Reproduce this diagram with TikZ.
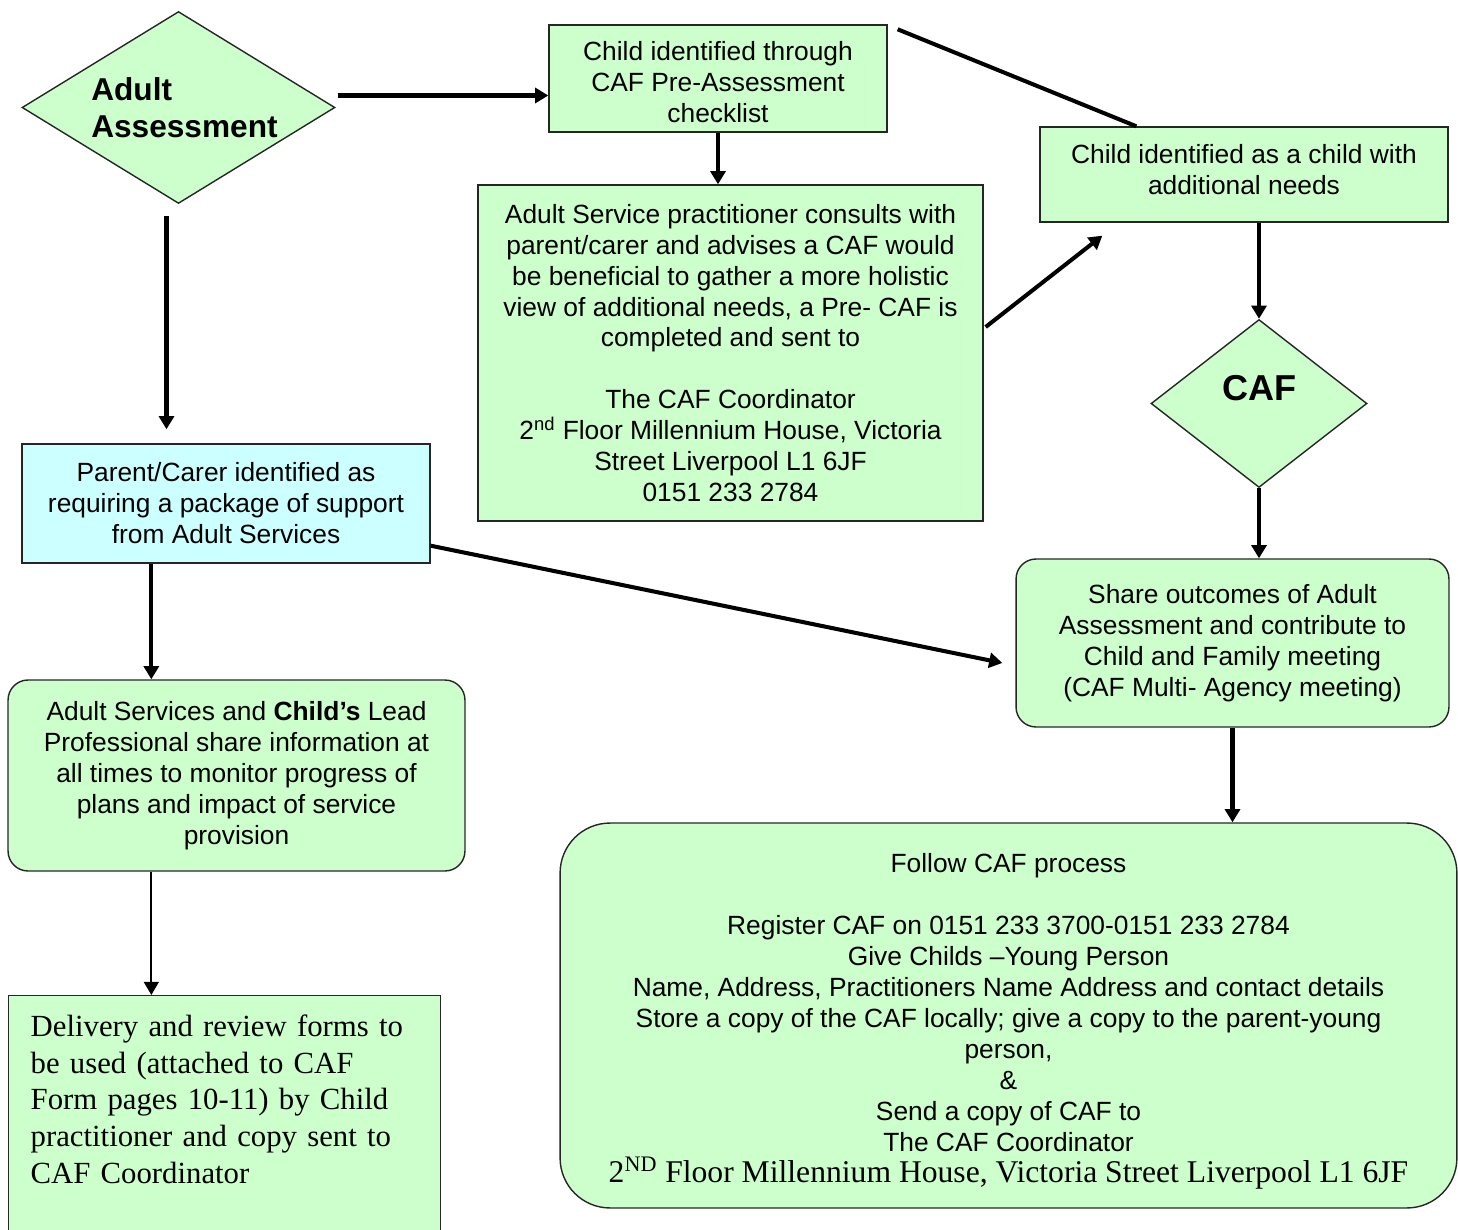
\documentclass[tikz,border=0pt]{standalone}
\usepackage{fontspec}
\setmainfont{Liberation Serif}
\setsansfont{Liberation Sans}
\usetikzlibrary{
  calc,
  arrows.meta,
  shapes.geometric,
}
\definecolor{cafgreen}{HTML}{CCFFCC}
\definecolor{cafcyan}{HTML}{CCFFFF}

\begin{document}
\begin{tikzpicture}[
    x=0.02cm, y=-0.02cm,
    arr/.style={line width=2.3pt, -{Triangle[length=7.5pt, width=8.5pt]}},
    thinarr/.style={line width=1.1pt, -{Triangle[length=7.5pt, width=8.5pt]}},
    box/.style={draw=black!85, line width=0.8pt, fill=cafgreen, rectangle, align=center,
        inner sep=0pt, font=\sffamily\fontsize{15}{17.6}\selectfont},
    rbox/.style={box, rounded corners=0.4cm},
    dia/.style={draw=black!85, line width=0.8pt, fill=cafgreen, diamond, inner sep=0pt},
    lab/.style={font=\sffamily\bfseries\fontsize{18}{21}\selectfont, align=left},
  ]
  \useasboundingbox (0,0) rectangle (1458,1230);
  \clip (0,0) rectangle (1458,1230);

  \node[dia, minimum width=6.26cm, minimum height=3.84cm,
    label={[lab, xshift=0.12cm]center:{Adult\\Assessment}}] (adult) at (178.5,107.5) {};
  \node[box, minimum width=6.76cm, minimum height=2.14cm] (check) at (718,78.5)
  {\rule{0pt}{15.4pt}Child identified through\\CAF Pre-Assessment\\checklist};
  \node[box, minimum width=10.1cm, minimum height=6.72cm] (consult) at (730.5,353)
  {Adult Service practitioner consults with\\parent/carer and advises a CAF would\\
    be beneficial to gather a more holistic\\view of additional needs, a Pre- CAF is\\
    completed and sent to\\[\baselineskip]
    The CAF Coordinator\\2\textsuperscript{nd} Floor Millennium House, Victoria\\
    Street Liverpool L1 6JF\\0151 233 2784};
  \node[box, minimum width=8.16cm, minimum height=1.9cm] (needs) at (1244,174.5)
  {Child identified as a child with\\additional needs\\[-12pt]\mbox{}};
  \node[dia, minimum width=4.32cm, minimum height=3.36cm,
    label={[lab, font=\sffamily\bfseries\fontsize{20.5}{24}\selectfont, yshift=0.3cm]center:CAF}]
  (caf) at (1259,403.5) {};
  \node[box, fill=cafcyan, minimum width=8.16cm, minimum height=2.38cm] (parent) at (226,503.5)
  {Parent/Carer identified as\\requiring a package of support\\from Adult Services};
  \node[rbox, minimum width=8.66cm, minimum height=3.36cm] (share) at (1232.5,643)
  {Share outcomes of Adult\\Assessment and contribute to\\Child and Family meeting\\
    (CAF Multi- Agency meeting)};
  \node[rbox, minimum width=9.14cm, minimum height=3.82cm] (lead) at (236.5,775.5)
  {Adult Services and \textbf{Child’s} Lead\\Professional share information at\\
    all times to monitor progress of\\plans and impact of service\\provision};
  \node[box, anchor=north west, align=left, inner xsep=0.44cm, inner ysep=0.39cm,
    text width=7.76cm, font=\rmfamily\fontsize{17.5}{20.8}\selectfont] (deliver) at (8,995)
  {Delivery and review forms to\\be used (attached to CAF\\Form pages 10-11) by Child\\
    practitioner and copy sent to\\CAF Coordinator\\ \mbox{}\\ \mbox{}};
  \node[rbox, rounded corners=1cm, minimum width=17.94cm, minimum height=7.7cm] (follow) at (1008.5,1015.5)
  {\rule{0pt}{17.6pt}Follow CAF process\\[\baselineskip]
    Register CAF on 0151 233 3700-0151 233 2784\\Give Childs –Young Person\\
    Name, Address, Practitioners Name Address and contact details\\
    Store a copy of the CAF locally; give a copy to the parent-young\\person,\\\&\\
    Send a copy of CAF to\\The CAF Coordinator\\
    {\rmfamily\fontsize{18}{17.9}\selectfont 2\textsuperscript{ND} Floor Millennium House, Victoria Street Liverpool L1 6JF}};

  \draw[arr] ($(adult.east)+(2,-12)$) coordinate (a0) -- (a0 -| check.west);
  \draw[arr] (check.south) -- (check.south |- consult.north);
  \draw[line width=2.3pt] ($(check.north east)+(10,5)$) -- ($(needs.north west)+(97,0)$);
  \draw[arr] ($(consult.east)+(2,-26)$) -- ($(needs.south west)+(63,13)$);
  \draw[arr] (caf.north |- needs.south) -- (caf.north);
  \draw[arr] (caf.south) -- (caf.south |- share.north);
  \draw[arr] (share.south) -- (share.south |- follow.north);
  \draw[arr] ($(adult.south)+(-12,12)$) coordinate (a1) -- ($(a1 |- parent.north)+(0,-14)$);
  \draw[arr] ($(parent.south west)+(130,0)$) coordinate (p1) -- (p1 |- lead.north);
  \draw[arr] ($(parent.south east)+(0,-18)$) -- ($(share.west)+(-13,20)$);
  \draw[thinarr] ($(lead.south west)+(144,0)$) coordinate (l1) -- (l1 |- deliver.north);
\end{tikzpicture}
\end{document}
